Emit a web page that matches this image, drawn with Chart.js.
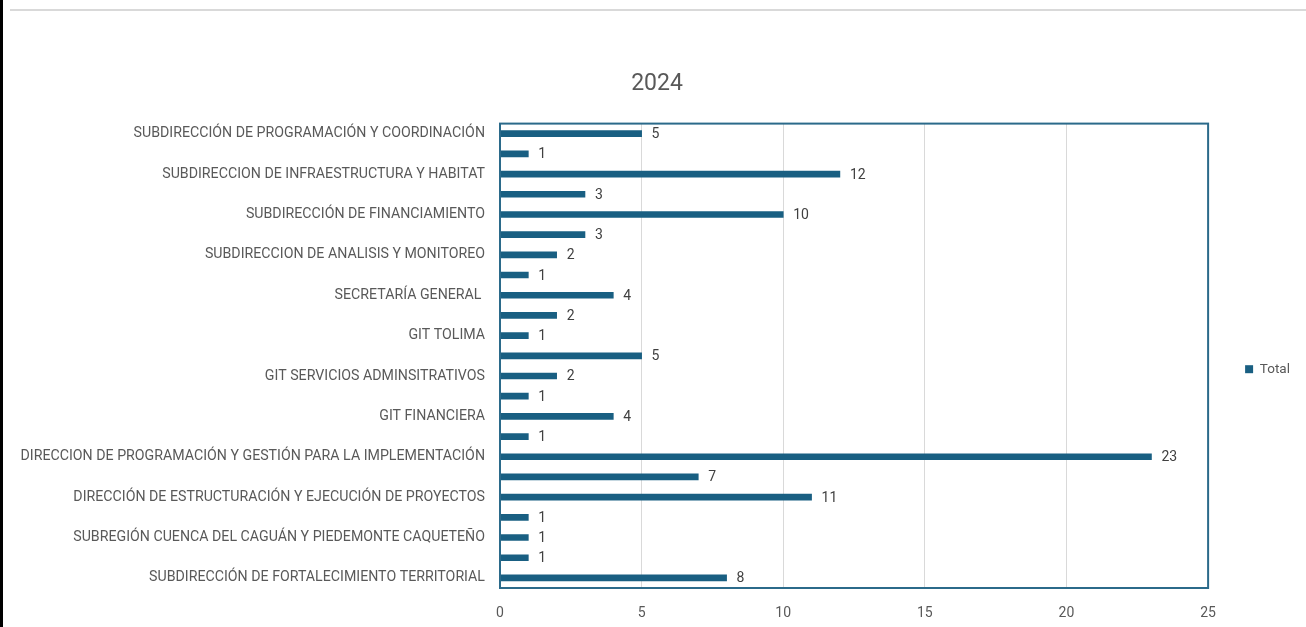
<!DOCTYPE html>
<html>
<head>
<meta charset="utf-8">
<script src="https://cdn.jsdelivr.net/npm/chart.js@4/dist/chart.umd.min.js"></script>
<style>
    html, body { margin: 0; padding: 0; background: #fff; }
    #wrap { position: relative; width: 1306px; height: 627px; overflow: hidden; }
    #edge { position: absolute; left: 0; top: 0; width: 3px; height: 627px; background: #000; }
    #topline { position: absolute; left: 10px; top: 9px; width: 1296px; height: 2px; background: #d9d9d9; }
    #chart { position: absolute; left: 0; top: 0; }
</style>
</head>
<body>
<div id="wrap">
    <canvas id="chart" width="1306" height="627"></canvas>
    <div id="edge"></div>
    <div id="topline"></div>
</div>
<script>
// categorías (las que Excel oculta quedan vacías)
const categorias = [
    'SUBDIRECCIÓN DE PROGRAMACIÓN Y COORDINACIÓN', '',
    'SUBDIRECCION DE INFRAESTRUCTURA Y HABITAT', '',
    'SUBDIRECCIÓN DE FINANCIAMIENTO', '',
    'SUBDIRECCION DE ANALISIS Y MONITOREO', '',
    'SECRETARÍA GENERAL ', '',
    'GIT TOLIMA', '',
    'GIT SERVICIOS ADMINSITRATIVOS', '',
    'GIT FINANCIERA', '',
    'DIRECCION DE PROGRAMACIÓN Y GESTIÓN PARA LA IMPLEMENTACIÓN', '',
    'DIRECCIÓN DE ESTRUCTURACIÓN Y EJECUCIÓN DE PROYECTOS', '',
    'SUBREGIÓN CUENCA DEL CAGUÁN Y PIEDEMONTE CAQUETEÑO', '',
    'SUBDIRECCIÓN DE FORTALECIMIENTO TERRITORIAL'
];
const totales = [5, 1, 12, 3, 10, 3, 2, 1, 4, 2, 1, 5, 2, 1, 4, 1, 23, 7, 11, 1, 1, 1, 8];
const ejeX = { min: 0, max: 25, paso: 5 };

const colorBarra = '#195f82';
const colorTexto = '#595959';
const fuente = 'Roboto, "Liberation Sans", sans-serif';

// marco del área de trazado
const marco = {
    id: 'marco',
    afterDraw(chart) {
        const { ctx, chartArea: a } = chart;
        ctx.save();
        ctx.strokeStyle = '#2b6a8a';
        ctx.lineWidth = 2;
        ctx.strokeRect(a.left, a.top, a.right - a.left, a.bottom - a.top);
        ctx.restore();
    }
};

// etiquetas de valor al final de cada barra
const etiquetas = {
    id: 'etiquetas',
    afterDatasetsDraw(chart) {
        const ctx = chart.ctx;
        ctx.save();
        ctx.fillStyle = '#404040';
        ctx.font = '14px ' + fuente;
        ctx.textBaseline = 'middle';
        chart.getDatasetMeta(0).data.forEach((bar, i) => {
            ctx.fillText(totales[i], bar.x + 10, bar.y + 1);
        });
        ctx.restore();
    }
};

new Chart(document.getElementById('chart'), {
    type: 'bar',
    data: {
        labels: categorias,
        datasets: [{
            label: 'Total',
            data: totales,
            backgroundColor: colorBarra,
            barThickness: 6
        }]
    },
    options: {
        indexAxis: 'y',
        responsive: false,
        animation: false,
        layout: { padding: { left: 14, right: 6, top: 0, bottom: 9 } },
        scales: {
            x: {
                min: ejeX.min,
                max: ejeX.max,
                afterFit: function(scale) { scale.height = 30; },
                ticks: { stepSize: ejeX.paso, padding: 17, color: colorTexto, font: { family: fuente, size: 14 } },
                grid: { color: '#d9d9d9', drawTicks: false },
                border: { display: false }
            },
            y: {
                afterFit: function(scale) { scale.width = 486; },
                ticks: { autoSkip: false, padding: 15, color: colorTexto, font: { family: fuente, size: 14.2 } },
                grid: { display: false, drawTicks: false },
                border: { display: false }
            }
        },
        plugins: {
            title: {
                display: true,
                text: '2024',
                color: colorTexto,
                font: { family: fuente, size: 23, weight: 'normal' },
                padding: { top: 70, bottom: 26 }
            },
            legend: {
                position: 'right',
                title: { display: true, text: '', font: { size: 12 }, padding: { top: 106, bottom: 0 } },
                labels: {
                    boxWidth: 8,
                    boxHeight: 8,
                    padding: 37,
                    color: colorTexto,
                    font: { family: fuente, size: 13.5 }
                }
            },
            tooltip: { enabled: false }
        }
    },
    plugins: [marco, etiquetas]
});
</script>
</body>
</html>
